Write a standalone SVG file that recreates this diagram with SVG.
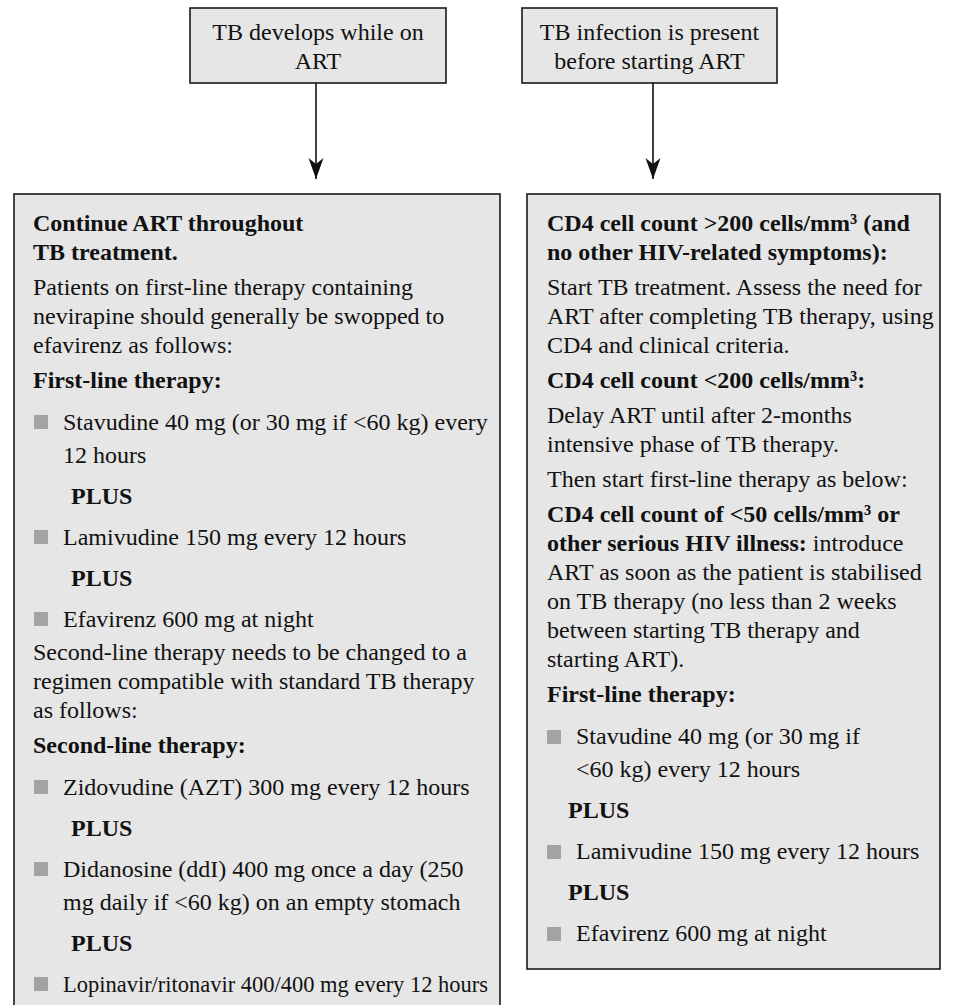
<svg xmlns="http://www.w3.org/2000/svg" width="953" height="1005" viewBox="0 0 953 1005">
  <style>
    .box { fill: #e6e6e6; stroke: #1a1a1a; stroke-width: 1.6; }
    .t { font-family: "Liberation Serif", "Times New Roman", serif; font-size: 24px; fill: #111; }
    .c { text-anchor: middle; }
    .b { font-weight: bold; }
    .bul { fill: #a3a3a3; }
    .wire { stroke: #111; stroke-width: 1.6; fill: none; }
  </style>
  <defs>
    <!-- barbed arrowhead, drawn along +x so orient="auto" points it down the line -->
    <marker id="arrow" markerUnits="userSpaceOnUse" markerWidth="24" markerHeight="16" refX="22" refY="8" orient="auto" viewBox="0 0 24 16">
      <path d="M22 8 L1 0.5 L7 8 L1 15.5 Z" fill="#111"/>
    </marker>
  </defs>
  <rect width="953" height="1005" fill="#ffffff"/>

  <!-- Entry conditions -->
  <g id="node-tb-on-art">
    <rect class="box" x="190" y="8" width="256" height="75"/>
    <text class="t c" x="318" y="40">TB develops while on</text>
    <text class="t c" x="318" y="69">ART</text>
  </g>
  <g id="node-tb-before-art">
    <rect class="box" x="522" y="8" width="255" height="75"/>
    <text class="t c" x="649.5" y="40">TB infection is present</text>
    <text class="t c" x="649.5" y="69">before starting ART</text>
  </g>

  <!-- Connectors -->
  <g id="connectors">
    <line class="wire" x1="316" y1="83" x2="316" y2="179" marker-end="url(#arrow)"/>
    <line class="wire" x1="653" y1="83" x2="653" y2="179" marker-end="url(#arrow)"/>
  </g>

  <!-- Management while already on ART -->
  <g id="node-continue-art">
    <rect class="box" x="14" y="194" width="486" height="830"/>
    <text class="t b" x="33" y="231">Continue ART throughout</text>
    <text class="t b" x="33" y="260">TB treatment.</text>
    <text class="t" x="33" y="295">Patients on first-line therapy containing</text>
    <text class="t" x="33" y="324">nevirapine should generally be swopped to</text>
    <text class="t" x="33" y="353">efavirenz as follows:</text>
    <text class="t b" x="33" y="388">First-line therapy:</text>
    <rect class="bul" x="34" y="415" width="14" height="14"/>
    <text class="t" x="63" y="430">Stavudine 40 mg (or 30 mg if &lt;60 kg) every</text>
    <text class="t" x="63" y="463">12 hours</text>
    <text class="t b" x="71" y="504">PLUS</text>
    <rect class="bul" x="34" y="530" width="14" height="14"/>
    <text class="t" x="63" y="545">Lamivudine 150 mg every 12 hours</text>
    <text class="t b" x="71" y="586">PLUS</text>
    <rect class="bul" x="34" y="612" width="14" height="14"/>
    <text class="t" x="63" y="627">Efavirenz 600 mg at night</text>
    <text class="t" x="33" y="660">Second-line therapy needs to be changed to a</text>
    <text class="t" x="33" y="689">regimen compatible with standard TB therapy</text>
    <text class="t" x="33" y="718">as follows:</text>
    <text class="t b" x="33" y="753">Second-line therapy:</text>
    <rect class="bul" x="34" y="780" width="14" height="14"/>
    <text class="t" x="63" y="795">Zidovudine (AZT) 300 mg every 12 hours</text>
    <text class="t b" x="71" y="836">PLUS</text>
    <rect class="bul" x="34" y="862" width="14" height="14"/>
    <text class="t" x="63" y="877">Didanosine (ddI) 400 mg once a day (250</text>
    <text class="t" x="63" y="910">mg daily if &lt;60 kg) on an empty stomach</text>
    <text class="t b" x="71" y="951">PLUS</text>
    <rect class="bul" x="34" y="977" width="14" height="14"/>
    <text class="t" x="63" y="992" textLength="425" lengthAdjust="spacingAndGlyphs">Lopinavir/ritonavir 400/400 mg every 12 hours</text>
  </g>

  <!-- Management when TB precedes ART -->
  <g id="node-cd4-guided">
    <rect class="box" x="527" y="194" width="413" height="775"/>
    <text class="t b" x="547" y="231">CD4 cell count &gt;200 cells/mm³ (and</text>
    <text class="t b" x="547" y="260">no other HIV-related symptoms):</text>
    <text class="t" x="547" y="295">Start TB treatment. Assess the need for</text>
    <text class="t" x="547" y="324">ART after completing TB therapy, using</text>
    <text class="t" x="547" y="353">CD4 and clinical criteria.</text>
    <text class="t b" x="547" y="388">CD4 cell count &lt;200 cells/mm³:</text>
    <text class="t" x="547" y="423">Delay ART until after 2-months</text>
    <text class="t" x="547" y="452">intensive phase of TB therapy.</text>
    <text class="t" x="547" y="487">Then start first-line therapy as below:</text>
    <text class="t b" x="547" y="522">CD4 cell count of &lt;50 cells/mm³ or</text>
    <text class="t" x="547" y="551"><tspan class="b">other serious HIV illness:</tspan> introduce</text>
    <text class="t" x="547" y="580">ART as soon as the patient is stabilised</text>
    <text class="t" x="547" y="609">on TB therapy (no less than 2 weeks</text>
    <text class="t" x="547" y="638">between starting TB therapy and</text>
    <text class="t" x="547" y="667">starting ART).</text>
    <text class="t b" x="547" y="702">First-line therapy:</text>
    <rect class="bul" x="547" y="730" width="14" height="14"/>
    <text class="t" x="576" y="744">Stavudine 40 mg (or 30 mg if</text>
    <text class="t" x="576" y="777">&lt;60 kg) every 12 hours</text>
    <text class="t b" x="568" y="818">PLUS</text>
    <rect class="bul" x="547" y="845" width="14" height="14"/>
    <text class="t" x="576" y="859">Lamivudine 150 mg every 12 hours</text>
    <text class="t b" x="568" y="900">PLUS</text>
    <rect class="bul" x="547" y="927" width="14" height="14"/>
    <text class="t" x="576" y="941">Efavirenz 600 mg at night</text>
  </g>
</svg>
